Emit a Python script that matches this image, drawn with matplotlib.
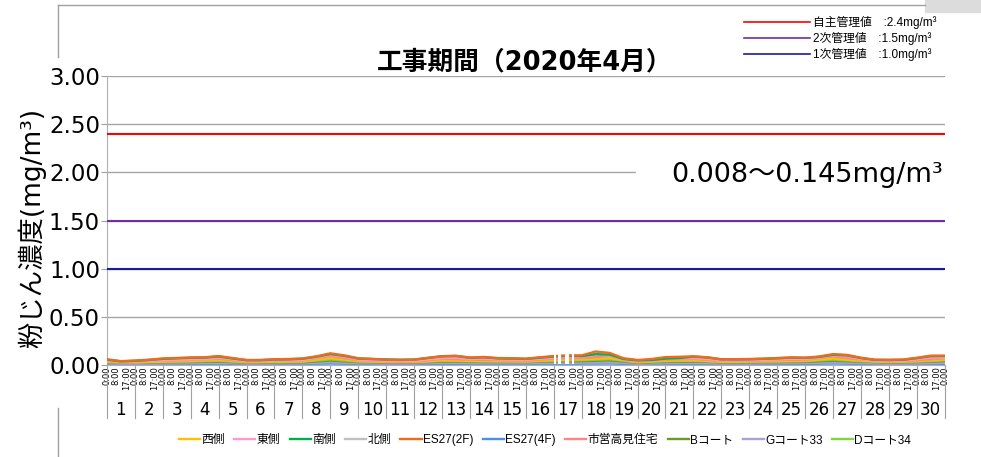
import matplotlib
matplotlib.use('Agg')
import matplotlib.pyplot as plt
from matplotlib.lines import Line2D
from matplotlib.patches import Rectangle
import numpy as np

# --- data -------------------------------------------------------------
days = list(range(1, 31))
hour_marks = ['0:00', '8:00', '17:00']

# half-day samples (day1 0:00, day1 12:00, ... day31 0:00)
es27_2f = [0.059, 0.040, 0.046, 0.055, 0.068, 0.073, 0.078, 0.080, 0.093, 0.072,
           0.052, 0.052, 0.060, 0.062, 0.068, 0.090, 0.121, 0.100, 0.070, 0.062,
           0.055, 0.052, 0.055, 0.075, 0.090, 0.095, 0.078, 0.083, 0.072, 0.070,
           0.066, 0.080, 0.093, 0.100, 0.100, 0.140, 0.125, 0.070, 0.052, 0.062,
           0.082, 0.085, 0.090, 0.080, 0.058, 0.060, 0.062, 0.066, 0.072, 0.078,
           0.076, 0.088, 0.113, 0.105, 0.076, 0.055, 0.054, 0.056, 0.075, 0.097,
           0.097]
minami = [0.055, 0.038, 0.043, 0.052, 0.064, 0.070, 0.075, 0.077, 0.088, 0.068,
          0.050, 0.050, 0.057, 0.059, 0.065, 0.086, 0.114, 0.095, 0.067, 0.063,
          0.058, 0.055, 0.057, 0.073, 0.092, 0.094, 0.075, 0.080, 0.069, 0.067,
          0.063, 0.076, 0.088, 0.095, 0.092, 0.112, 0.108, 0.062, 0.048, 0.052,
          0.066, 0.072, 0.088, 0.078, 0.060, 0.058, 0.060, 0.064, 0.070, 0.077,
          0.074, 0.084, 0.106, 0.100, 0.072, 0.053, 0.052, 0.054, 0.071, 0.092,
          0.093]
higashi = [0.045, 0.030, 0.033, 0.040, 0.050, 0.055, 0.058, 0.060, 0.075, 0.058,
           0.040, 0.040, 0.046, 0.048, 0.054, 0.075, 0.105, 0.085, 0.055, 0.048,
           0.042, 0.040, 0.043, 0.058, 0.072, 0.076, 0.062, 0.066, 0.057, 0.055,
           0.052, 0.064, 0.076, 0.082, 0.082, 0.110, 0.098, 0.055, 0.040, 0.046,
           0.062, 0.068, 0.072, 0.064, 0.046, 0.047, 0.049, 0.052, 0.058, 0.063,
           0.062, 0.074, 0.098, 0.090, 0.062, 0.043, 0.042, 0.044, 0.060, 0.078,
           0.078]

# daily samples (day1 0:00 ... day31 0:00)
shiei = [0.040, 0.036, 0.046, 0.052, 0.066, 0.036, 0.042, 0.048, 0.092, 0.050,
         0.038, 0.038, 0.064, 0.056, 0.050, 0.046, 0.066, 0.072, 0.092, 0.036,
         0.056, 0.064, 0.042, 0.045, 0.052, 0.055, 0.088, 0.056, 0.038, 0.050, 0.070]
nishi = [0.032, 0.028, 0.036, 0.042, 0.052, 0.030, 0.034, 0.038, 0.072, 0.040,
         0.032, 0.032, 0.048, 0.044, 0.040, 0.038, 0.052, 0.058, 0.072, 0.030,
         0.044, 0.050, 0.034, 0.036, 0.040, 0.044, 0.068, 0.044, 0.032, 0.040, 0.056]
d_coat34 = [0.030, 0.026, 0.032, 0.036, 0.044, 0.028, 0.030, 0.034, 0.058, 0.036,
            0.030, 0.030, 0.042, 0.038, 0.036, 0.034, 0.046, 0.050, 0.060, 0.028,
            0.040, 0.044, 0.032, 0.034, 0.036, 0.040, 0.056, 0.040, 0.030, 0.036, 0.048]
b_coat = [0.026, 0.022, 0.028, 0.030, 0.036, 0.024, 0.026, 0.028, 0.046, 0.030,
          0.026, 0.026, 0.034, 0.032, 0.030, 0.030, 0.038, 0.040, 0.048, 0.024,
          0.032, 0.036, 0.028, 0.028, 0.030, 0.032, 0.044, 0.034, 0.026, 0.030, 0.040]
kita = [0.020, 0.018, 0.022, 0.024, 0.028, 0.020, 0.020, 0.022, 0.034, 0.024,
        0.020, 0.020, 0.026, 0.024, 0.024, 0.024, 0.030, 0.032, 0.036, 0.020,
        0.026, 0.028, 0.022, 0.022, 0.024, 0.026, 0.034, 0.026, 0.020, 0.024, 0.030]
g_coat33 = [0.016, 0.014, 0.016, 0.018, 0.022, 0.016, 0.016, 0.018, 0.028, 0.018,
            0.016, 0.016, 0.020, 0.018, 0.018, 0.018, 0.022, 0.024, 0.026, 0.014,
            0.018, 0.020, 0.016, 0.016, 0.018, 0.020, 0.026, 0.020, 0.014, 0.016, 0.020]
es27_4f = [0.012, 0.010, 0.012, 0.012, 0.014, 0.010, 0.010, 0.012, 0.016, 0.012,
           0.010, 0.010, 0.012, 0.012, 0.012, 0.012, 0.014, 0.014, 0.016, 0.008,
           0.010, 0.012, 0.010, 0.010, 0.012, 0.012, 0.016, 0.012, 0.010, 0.010, 0.012]

# hours with no data (day 17)
missing_hours = [384, 385, 388, 389, 394, 395, 396, 400]

limits = [2.4, 1.5, 1.0]
limit_labels = ['自主管理値　:2.4mg/m³', '2次管理値　:1.5mg/m³', '1次管理値　:1.0mg/m³']
limit_colors = ['#ff0000', '#7030a0', '#1a1aa0']

# --- plot -------------------------------------------------------------
JP = ['DejaVu Sans', 'Noto Sans CJK JP']
plt.rcParams['font.family'] = JP

fig = plt.figure(figsize=(9.81, 4.57), dpi=100)
ax = fig.add_axes([0.109, 0.2013, 0.854, 0.6324])

x_half = np.arange(len(es27_2f)) * 12
x_day = np.arange(len(nishi)) * 24

series = [
    ('西側', x_day, nishi, '#ffc000'),
    ('東側', x_half, higashi, '#ff99cc'),
    ('南側', x_half, minami, '#00b050'),
    ('北側', x_day, kita, '#bfbfbf'),
    ('ES27(2F)', x_half, es27_2f, '#ed6c1c'),
    ('ES27(4F)', x_day, es27_4f, '#4a8ef0'),
    ('市営高見住宅', x_day, shiei, '#ff8585'),
    ('Bコート', x_day, b_coat, '#6b9a2a'),
    ('Gコート33', x_day, g_coat33, '#a9a0d8'),
    ('Dコート34', x_day, d_coat34, '#7ed63a'),
]
zorders = {'ES27(2F)': 9, '南側': 8, '東側': 7, '市営高見住宅': 6, '西側': 5,
           'Dコート34': 4, 'Bコート': 4, '北側': 3, 'Gコート33': 3, 'ES27(4F)': 3}
handles = []
for name, xs, ys, c in series:
    ln, = ax.plot(xs, ys, color=c, lw=1.7, zorder=zorders[name], label=name)
    handles.append(ln)

for h in missing_hours:
    ax.axvspan(h, h + 1, ymin=0.002, ymax=0.05, color='white', lw=0, zorder=10)

for v, c in zip(limits, limit_colors):
    ax.axhline(v, color=c, lw=1.5, zorder=4)

ax.set_xlim(0, 720)
ax.set_ylim(0, 3)
ax.set_yticks(np.arange(0, 3.01, 0.5))
ax.set_yticklabels(['%.2f' % v for v in np.arange(0, 3.01, 0.5)])
ax.tick_params(axis='y', labelsize=16.5, length=4, color='#a0a0a0', pad=1)
ax.yaxis.grid(True, color='#a6a6a6', lw=1)
ax.set_axisbelow(True)
for s in ['top', 'right']:
    ax.spines[s].set_visible(False)
for s in ['left', 'bottom']:
    ax.spines[s].set_color('#b0b0b0')

# hour labels + day labels
pos, labs = [], []
for d in range(30):
    for i, h in enumerate([0, 8, 17]):
        pos.append(d * 24 + h)
        labs.append(hour_marks[i])
pos.append(720)
labs.append('0:00')
ax.set_xticks(pos)
ax.set_xticklabels(labs, rotation=90, fontsize=6)
ax.tick_params(axis='x', length=0, pad=1)

trans = ax.get_xaxis_transform()
for d in range(31):
    ax.plot([d * 24, d * 24], [0, -0.185], transform=trans, color='#a0a0a0',
            lw=0.8, clip_on=False)
for d in days:
    ax.text((d - 0.5) * 24, -0.155, str(d), transform=trans, ha='center',
            va='center', fontsize=12)

# range annotation
ax.add_patch(Rectangle((0.632, 0.62), 0.368, 0.085, transform=ax.transAxes,
                       color='white', zorder=2))
ax.text(0.674, 0.657, '0.008～0.145mg/m³', transform=ax.transAxes, fontsize=19.5,
        va='center', ha='left', zorder=3)

fig.text(525 / 981, 1 - 62 / 457, '工事期間（2020年4月）', ha='center', va='center',
         fontsize=18.5, fontweight='bold')
fig.text(32 / 981, 1 - 228 / 457, '粉じん濃度(mg/m³)', rotation=90, ha='center',
         va='center', fontsize=19)

# limit legend (top right)
lim_handles = [Line2D([], [], color=c, lw=1.2) for c in limit_colors]
fig.legend(lim_handles, limit_labels, loc='upper right',
           bbox_to_anchor=(942 / 981, 1 - 10 / 457), frameon=False,
           prop={'family': ['Liberation Sans', 'Noto Sans CJK JP'], 'size': 8.5},
           handlelength=5.6, handletextpad=0.2, labelspacing=0.25, borderpad=0)

# series legend (bottom)
fig.legend(handles, [s[0] for s in series], loc='center', ncol=10,
           bbox_to_anchor=(545 / 981, 1 - 440 / 457), frameon=False,
           prop={'family': ['Liberation Sans', 'Noto Sans CJK JP'], 'size': 8.5},
           handlelength=1.8, handletextpad=0.1, columnspacing=0.8, borderpad=0)

# screenshot frame pieces
fr = '#a0a0a0'
fig.add_artist(Line2D([58 / 981, 58 / 981], [1 - 5 / 457, 1 - 57 / 457], color=fr, lw=1))
fig.add_artist(Line2D([58 / 981, 925 / 981], [1 - 5 / 457, 1 - 5 / 457], color=fr, lw=1))
fig.add_artist(Line2D([58 / 981, 58 / 981], [1 - 408 / 457, 0], color=fr, lw=1))
fig.add_artist(Rectangle((925 / 981, 1 - 12 / 457), 56 / 981, 12 / 457,
                         color='#dcdcdc', transform=fig.transFigure))

plt.savefig('out.png', dpi=100)
plt.close()
